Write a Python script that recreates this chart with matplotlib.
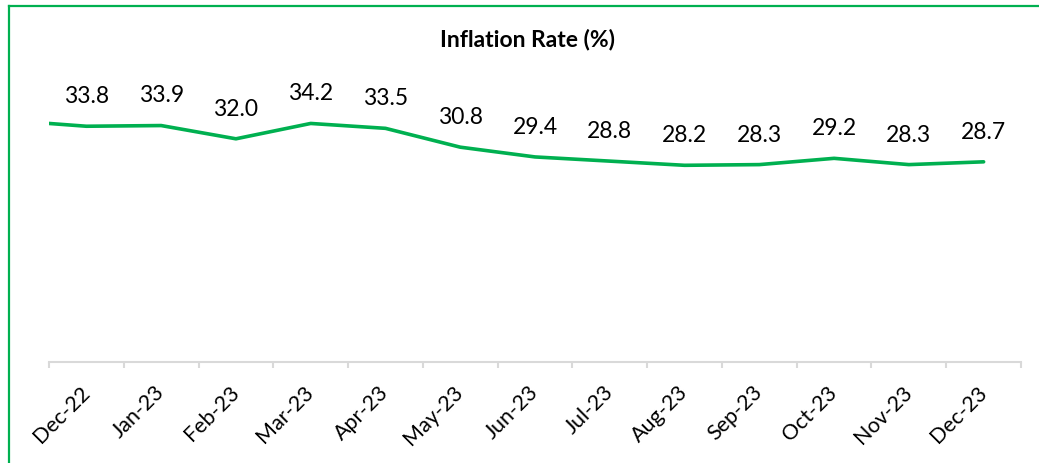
import matplotlib
matplotlib.use("Agg")
import matplotlib.pyplot as plt
from matplotlib.lines import Line2D
import numpy as np

months = ["Dec-22", "Jan-23", "Feb-23", "Mar-23", "Apr-23", "May-23", "Jun-23",
          "Jul-23", "Aug-23", "Sep-23", "Oct-23", "Nov-23", "Dec-23"]
inflation = [33.8, 33.9, 32.0, 34.2, 33.5, 30.8, 29.4, 28.8, 28.2, 28.3, 29.2, 28.3, 28.7]
# value of the line where it enters the plot at the left edge
lead_in_value = 34.2

GREEN = "#00B050"
GRAY = "#D9D9D9"
FONT = ["Lato", "DejaVu Sans"]
plt.rcParams["font.family"] = FONT

W, H = 1039, 464
fig = plt.figure(figsize=(W / 100, H / 100), dpi=100)
ax = fig.add_axes([49 / W, 1 - 363 / H, (1021 - 49) / W, (363 - 84) / H])

x = np.arange(len(months))
xs = np.concatenate([[-0.5], x])
ys = np.concatenate([[lead_in_value], inflation])
ax.plot(xs, ys, color=GREEN, lw=2.6, solid_capstyle="round", solid_joinstyle="round")

for xi, v in zip(x, inflation):
    ax.annotate(f"{v:.1f}", (xi, v), xytext=(0, 22), textcoords="offset points",
                ha="center", va="center", fontsize=16.5, color="black")

ax.set_xlim(-0.5, len(months) - 0.5)
ax.set_ylim(0, 40)
for s in ["top", "right", "left"]:
    ax.spines[s].set_visible(False)
ax.spines["bottom"].set_color(GRAY)
ax.spines["bottom"].set_linewidth(1.5)
ax.set_yticks([])

ax.set_xticks(np.arange(-0.5, len(months) + 0.5, 1.0))
ax.set_xticklabels([])
ax.tick_params(axis="x", which="major", length=4, width=1.5, color=GRAY, direction="out")
ax.set_xticks(x, minor=True)
ax.set_xticklabels(months, minor=True, rotation=45, ha="right", va="center",
                   rotation_mode="anchor", fontsize=15.5)
ax.tick_params(axis="x", which="minor", length=0, pad=19)

fig.text(528 / W, 1 - 40 / H, "Inflation Rate (%)", ha="center", va="center",
         fontsize=16.5, fontweight="bold")

fig.add_artist(Line2D([9 / W, 1], [1 - 6.5 / H, 1 - 6.5 / H], transform=fig.transFigure,
                      color=GREEN, lw=1.6))
fig.add_artist(Line2D([9 / W, 9 / W], [0, 1 - 6.5 / H], transform=fig.transFigure,
                      color=GREEN, lw=1.6))

fig.savefig("out.png", dpi=100)
